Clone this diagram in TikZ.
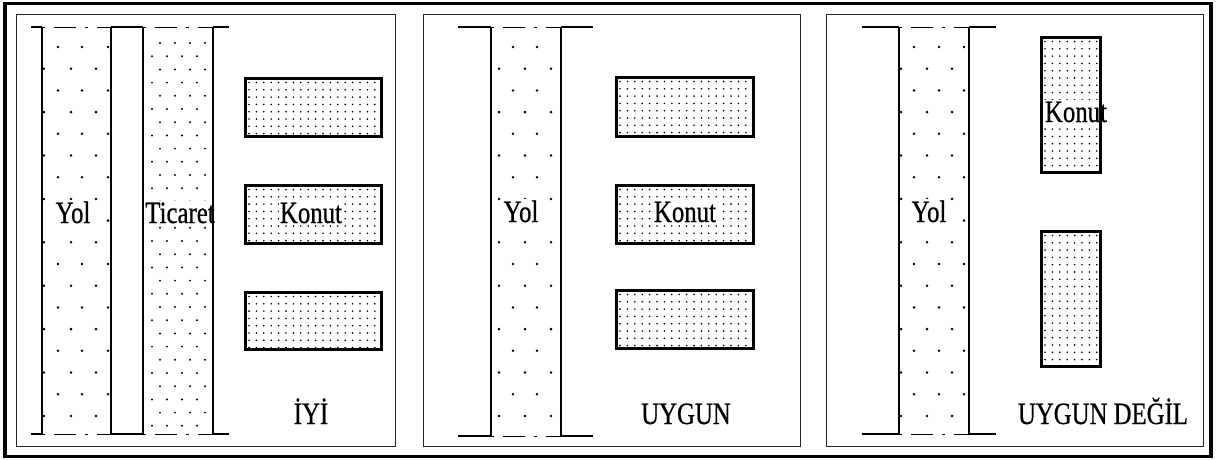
\documentclass[tikz,border=0pt]{standalone}
\usepackage{fontspec}
\newfontfamily\labelfont{Liberation Serif}[FakeStretch=0.8,FakeBold=0.6]
\usepackage{tikz}

% fine dots of a house block: x1, y1, x2, y2
\newcommand{\konutdots}[4]{%
  \begin{scope}
    \clip (#1+2,#2+2) rectangle (#3-2,#4-2);
    \foreach \i in {0,...,18} {
      \foreach \j in {0,...,18} {
        \fill ({#1+4+7.4*\i},{#2+4.5+7.3*\j}) circle[radius=0.9pt];
      }
    }
  \end{scope}}

% sparse dots of a road strip: left edge, offsets of rows A, offsets of rows B
\newcommand{\yoldots}[3]{%
  \foreach \m in {0,...,8} {
    \foreach \dx in {#2} \fill ({#1+\dx},{47+43.4*\m}) circle[radius=1.4pt];
    \foreach \dx in {#3} \fill ({#1+\dx},{68.7+43.4*\m}) circle[radius=1.4pt];
  }}

\begin{document}
\begin{tikzpicture}[x=1pt,y=-1pt,
    lbl/.style={font=\labelfont\fontsize{31}{36}\selectfont,anchor=base,inner sep=1.5pt},
    lblbox/.style={lbl,fill=white},
    edge/.style={line width=1.8pt},
    stripend/.style={line width=0.9pt,dash pattern=on 3pt off 9pt on 22pt off 9pt},
    konut/.style={line width=3pt}]
    \useasboundingbox (0,0) rectangle (1219,459);

    % frame and the three panels
    \draw[line width=3.5pt] (5,3.5) rectangle (1211,456.5);
    \foreach \xa/\xb in {16/395,423/800,826/1203}
      \draw[line width=0.8pt,black!85] (\xa,14) rectangle (\xb,446);

    % dots
    \yoldots{42}{16,40,66}{2,29,54}
    \yoldots{491}{22,46}{8,34,60}
    \yoldots{899}{15,40,65}{2,28,53}
    \foreach \k in {0,...,29} {
      \ifodd\k \def\offs{9,24,39,54}\else \def\offs{17,32,47,62}\fi
      \foreach \dx in \offs \fill ({143+\dx},{43+13.2*\k}) circle[radius=1.1pt];
    }
    \foreach \ya/\yb in {78/136,185/243,292/349} {\konutdots{245}{\ya}{381}{\yb}}
    \foreach \ya/\yb in {77/136,185/243,290/348} {\konutdots{616}{\ya}{753}{\yb}}
    \foreach \ya/\yb in {37/172,231/366} {\konutdots{1041}{\ya}{1100}{\yb}}

    % labels
    \node[lblbox] (yolA) at (73,223) {Yol};
    \node[lblbox] (ticaret) at (180,223) {Ticaret};
    \node[lblbox] (konutA) at (311,223) {Konut};
    \node[lbl] (iyi) at (311,424) {İYİ};
    \node[lblbox] (yolB) at (521,222) {Yol};
    \node[lblbox] (konutB) at (685,222) {Konut};
    \node[lbl] (uygun) at (686,424) {UYGUN};
    \node[lblbox] (yolC) at (929,222) {Yol};
    \node[lblbox] (konutC) at (1076,122) {Konut};
    \node[lbl] (uygundegil) at (1103,424) {UYGUN DEĞİL};

    % strips of panel 1
    \foreach \x in {42,111,143,213} \draw[edge] (\x,27) -- (\x,434);
    \foreach \y in {27,434} {
      \draw[edge] (31,\y) -- (42,\y);
      \draw[stripend] (42,\y) -- (111,\y);
      \draw[edge] (111,\y) -- (143,\y);
      \draw[stripend] (143,\y) -- (213,\y);
      \draw[edge] (213,\y) -- (229,\y);
    }
    % strips of panels 2 and 3
    \foreach \xa/\xl/\xr/\xb/\yb in {458/491/561/593/436,862/899/969/996/434} {
      \draw[edge] (\xl,27) -- (\xl,\yb);
      \draw[edge] (\xr,27) -- (\xr,\yb);
      \foreach \y in {27,\yb} {
        \draw[edge] (\xa,\y) -- (\xl,\y);
        \draw[stripend] (\xl,\y) -- (\xr,\y);
        \draw[edge] (\xr,\y) -- (\xb,\y);
      }
    }

    % house blocks
    \foreach \ya/\yb in {78/136,185/243,292/349} \draw[konut] (245,\ya) rectangle (381,\yb);
    \foreach \ya/\yb in {77/136,185/243,290/348} \draw[konut] (616,\ya) rectangle (753,\yb);
    \foreach \ya/\yb in {37/172,231/366} \draw[konut] (1041,\ya) rectangle (1100,\yb);
  \end{tikzpicture}
\end{document}
